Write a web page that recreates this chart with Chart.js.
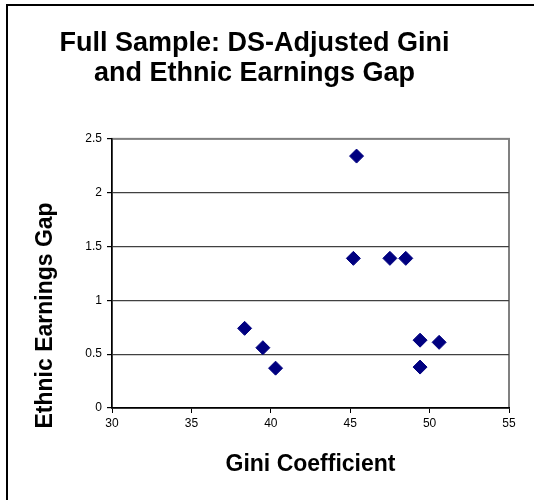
<!DOCTYPE html>
<html>
<head>
<meta charset="utf-8">
<script src="https://cdn.jsdelivr.net/npm/chart.js@4.4.1/dist/chart.umd.min.js"></script>
<style>
  html, body { margin: 0; padding: 0; background: #fff; }
  #wrap { position: relative; width: 534px; height: 500px; overflow: hidden; }
  #frame {
    position: absolute; left: 6px; top: 4px; right: -10px; bottom: -10px;
    border-top: 2px solid #000; border-left: 2px solid #000; pointer-events: none;
  }
  canvas { position: absolute; left: 0; top: 0; }
</style>
</head>
<body>
<div id="wrap">
  <canvas id="grafico" width="534" height="500"></canvas>
  <div id="frame"></div>
</div>
<script>
// Dados
const titulo = ['Full Sample: DS-Adjusted Gini', 'and Ethnic Earnings Gap'];
const tituloX = 'Gini Coefficient';
const tituloY = 'Ethnic Earnings Gap';
const gini = [45.4, 45.2, 47.5, 48.5, 38.35, 39.5, 40.3, 49.4, 50.6, 49.4];
const gap = [2.34, 1.39, 1.39, 1.39, 0.74, 0.56, 0.37, 0.63, 0.61, 0.38];
const ticksX = ['30', '35', '40', '45', '50', '55'];
const ticksY = ['0', '0.5', '1', '1.5', '2', '2.5'];

const fonte = '"Liberation Sans", Arial, sans-serif';

// Borda cinza da área do gráfico
const bordaArea = {
  id: 'bordaArea',
  beforeDraw(chart) {
    const { ctx, chartArea: a } = chart;
    ctx.save();
    ctx.strokeStyle = '#808080';
    ctx.lineWidth = 2;
    ctx.strokeRect(a.left, a.top, a.right - a.left, a.bottom - a.top);
    ctx.restore();
  }
};

// Título do eixo Y (centralizado como no Excel, um pouco abaixo do meio)
const tituloEixoY = {
  id: 'tituloEixoY',
  afterDraw(chart) {
    const { ctx, chartArea: a } = chart;
    ctx.save();
    ctx.translate(46, (a.top + a.bottom) / 2 + 42);
    ctx.rotate(-Math.PI / 2);
    ctx.font = 'bold 23px ' + fonte;
    ctx.fillStyle = '#000';
    ctx.textAlign = 'center';
    ctx.textBaseline = 'middle';
    ctx.fillText(tituloY, 0, 0);
    ctx.restore();
  }
};

const pontos = gini.map((g, i) => ({ x: g, y: gap[i] }));

new Chart(document.getElementById('grafico').getContext('2d'), {
  type: 'scatter',
  data: {
    datasets: [{
      data: pontos,
      pointStyle: 'rectRot',
      pointRadius: 7,
      pointHoverRadius: 7,
      backgroundColor: '#000080',
      borderColor: '#000080',
      borderWidth: 1
    }]
  },
  options: {
    responsive: false,
    animation: false,
    layout: { padding: { top: 29, right: 25, bottom: 22, left: 0 } },
    plugins: {
      legend: { display: false },
      tooltip: { enabled: false },
      title: {
        display: true,
        text: titulo,
        color: '#000',
        font: { family: fonte, size: 27, weight: 'bold', lineHeight: 1.09 },
        padding: { top: 0, bottom: 51 }
      }
    },
    scales: {
      x: {
        type: 'linear',
        min: 30, max: 55,
        ticks: {
          stepSize: 5,
          color: '#000',
          padding: 3,
          maxRotation: 0,
          font: { family: fonte, size: 12 },
          callback: (v, i) => ticksX[i]
        },
        grid: { drawOnChartArea: false, tickLength: 5, tickColor: '#000' },
        border: { color: '#000', width: 1.5 },
        title: {
          display: true,
          text: tituloX,
          color: '#000',
          font: { family: fonte, size: 23, weight: 'bold' },
          padding: { top: 17, bottom: 0 }
        }
      },
      y: {
        min: 0, max: 2.5,
        // espaço à esquerda reservado para o título do eixo Y
        afterFit: s => { s.width = 112; },
        ticks: {
          stepSize: 0.5,
          color: '#000',
          padding: 5,
          font: { family: fonte, size: 12 },
          callback: (v, i) => ticksY[i]
        },
        grid: {
          color: c => (c.tick && c.tick.value === 2.5) ? '#808080' : '#404040',
          lineWidth: 1.2,
          tickLength: 5,
          tickColor: '#000'
        },
        border: { color: '#000', width: 1.5 }
      }
    }
  },
  plugins: [bordaArea, tituloEixoY]
});
</script>
</body>
</html>
